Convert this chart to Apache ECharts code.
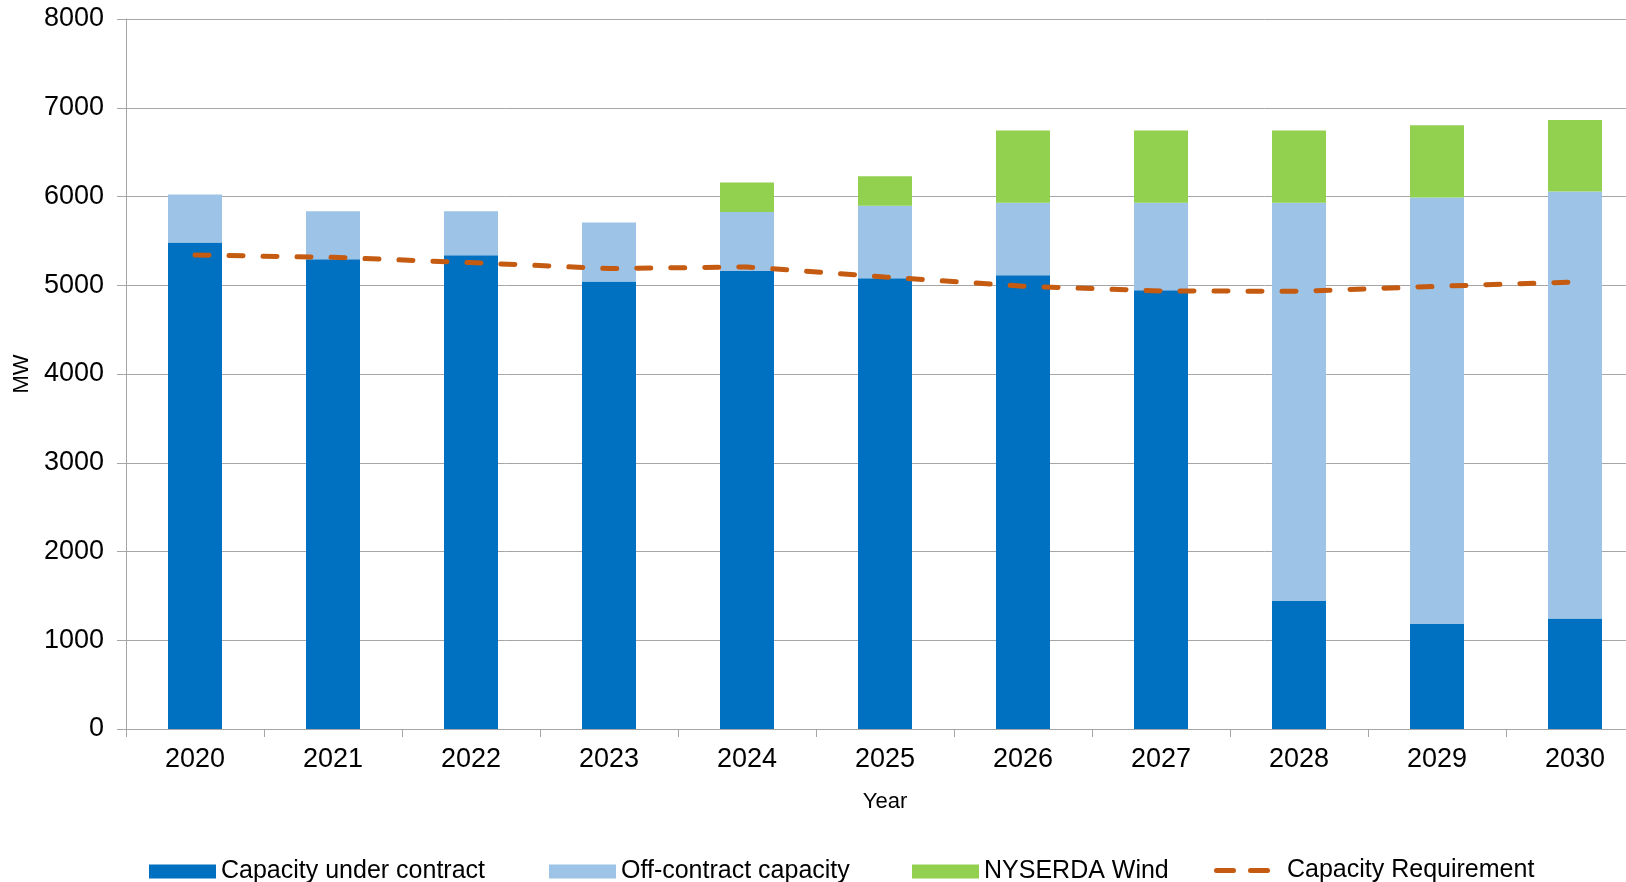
<!DOCTYPE html>
<html>
<head>
<meta charset="utf-8">
<script src="https://cdn.jsdelivr.net/npm/echarts@6/dist/echarts.min.js"></script>
<style>
html,body{margin:0;padding:0;background:#fff;overflow:hidden;}
#c{width:1660px;height:882px;}
</style>
</head>
<body>
<div id="c"></div>
<script>
const years = ['2020','2021','2022','2023','2024','2025','2026','2027','2028','2029','2030'];
const underContract = [5483, 5292, 5337, 5042, 5161, 5080, 5114, 4944, 1442, 1183, 1244];
const offContract   = [539, 543, 498, 666, 663, 816, 816, 986, 4488, 4806, 4812];
const nyserdaWind   = [0, 0, 0, 0, 333, 332, 815, 815, 815, 813, 806];
const capacityReq   = [5340, 5315, 5255, 5188, 5206, 5093, 4989, 4936, 4932, 4988, 5037];

const FONT = '"Liberation Sans", Arial, sans-serif';
const chart = echarts.init(document.getElementById('c'), null, {renderer: 'canvas'});

function legendAt(name, left, extra) {
  return Object.assign({
    data: [name],
    left: left,
    top: 854,
    icon: 'rect',
    itemWidth: 67,
    itemHeight: 14,
    itemGap: 0,
    textStyle: {fontFamily: FONT, fontSize: 25, color: '#000'},
    selectedMode: false
  }, extra || {});
}

chart.setOption({
  animation: false,
  backgroundColor: '#fff',
  textStyle: {fontFamily: FONT},
  grid: {left: 126, top: 19, width: 1518, height: 710, containLabel: false},
  legend: [
    legendAt('Capacity under contract', 144),
    legendAt('Off-contract capacity', 544),
    legendAt('NYSERDA Wind', 907),
    legendAt('Capacity Requirement', 1209, {
      icon: 'path://M2.5,0 H19.5 A2.5,2.5 0 0 1 19.5,5 H2.5 A2.5,2.5 0 0 1 2.5,0 Z M36.5,0 H53.5 A2.5,2.5 0 0 1 53.5,5 H36.5 A2.5,2.5 0 0 1 36.5,0 Z',
      itemWidth: 56, itemHeight: 5, top: 853,
      textStyle: {fontFamily: FONT, fontSize: 25, color: '#000', padding: [0, 0, 0, 12]}
    })
  ],
  xAxis: {
    type: 'category',
    data: years,
    name: 'Year',
    nameLocation: 'middle',
    nameGap: 62,
    nameTextStyle: {fontFamily: FONT, fontSize: 22, color: '#000'},
    axisLine: {lineStyle: {color: '#a6a6a6', width: 1}},
    axisTick: {show: true, length: 8, lineStyle: {color: '#a6a6a6'}},
    axisLabel: {fontFamily: FONT, fontSize: 27, color: '#000', margin: 17}
  },
  yAxis: {
    type: 'value',
    min: 0, max: 8000, interval: 1000,
    name: 'MW',
    nameLocation: 'middle',
    nameGap: 92,
    nameRotate: 90,
    nameTextStyle: {fontFamily: FONT, fontSize: 22, color: '#000'},
    axisLine: {show: true, lineStyle: {color: '#a6a6a6', width: 1}},
    axisTick: {show: true, length: 9, lineStyle: {color: '#a6a6a6'}},
    axisLabel: {fontFamily: FONT, fontSize: 27, color: '#000', margin: 22,
                formatter: function (v) { return String(v); }},
    splitLine: {lineStyle: {color: '#a6a6a6', width: 1}}
  },
  series: [
    {name: 'Capacity under contract', type: 'bar', stack: 'cap', barWidth: 54,
     data: underContract, itemStyle: {color: '#0070c0'}},
    {name: 'Off-contract capacity', type: 'bar', stack: 'cap', barWidth: 54,
     data: offContract, itemStyle: {color: '#9dc3e6'}},
    {name: 'NYSERDA Wind', type: 'bar', stack: 'cap', barWidth: 54,
     data: nyserdaWind, itemStyle: {color: '#92d050'}},
    {name: 'Capacity Requirement', type: 'line', data: capacityReq,
     symbol: 'none', showSymbol: false, smooth: false, z: 5,
     itemStyle: {color: '#c55a11'},
     lineStyle: {color: '#c55a11', width: 5, type: [14, 20], cap: 'round'}}
  ]
});
</script>
</body>
</html>
